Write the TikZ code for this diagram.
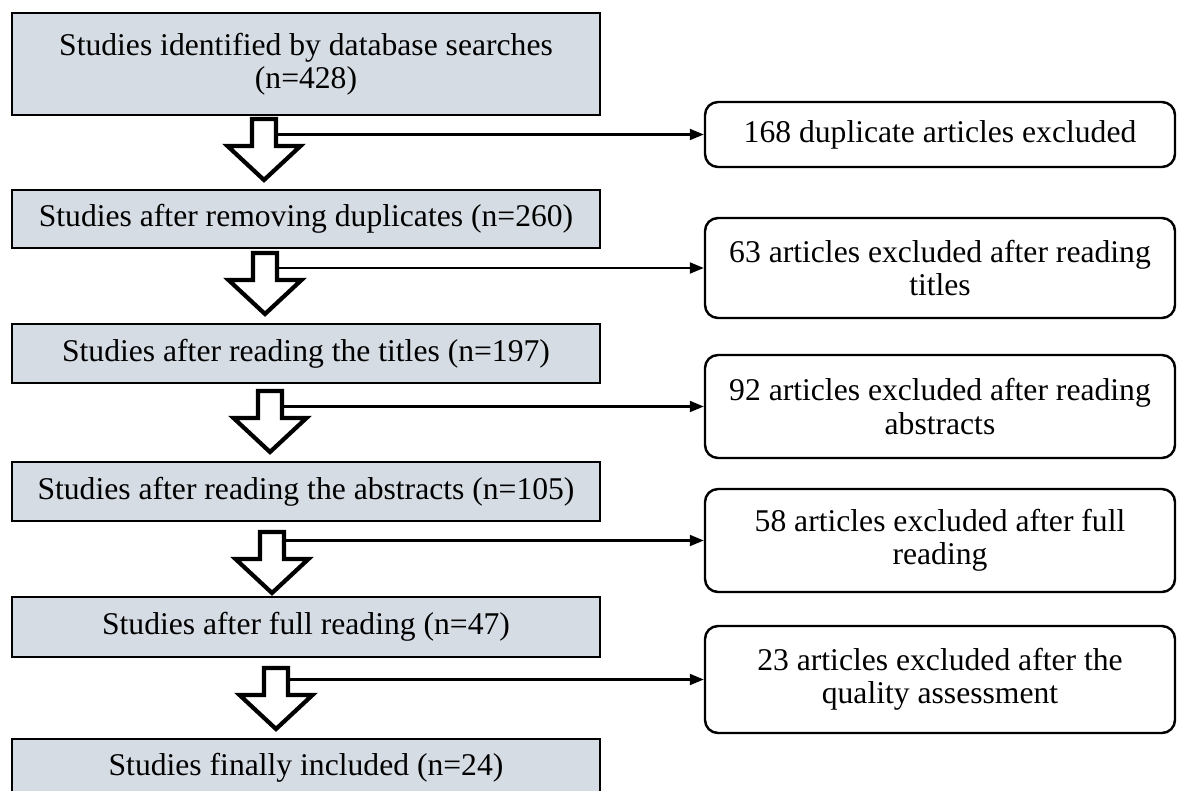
\documentclass[tikz,border=0pt]{standalone}
\usepackage{fontspec}
\setmainfont{Liberation Serif}
\usetikzlibrary{arrows.meta}

\definecolor{stagefill}{HTML}{D6DCE4}
\tikzset{
    txt/.style={font=\fontsize{9}{9.4}\selectfont, align=center},
    stage/.style={txt, draw, line width=0.7pt, fill=stagefill, minimum width=5.88cm, inner sep=2pt},
    excl/.style={txt, draw, line width=0.7pt, rounded corners=0.13cm, minimum width=4.70cm, inner sep=2pt},
    side/.style={-{Triangle[length=1.4mm, width=1.1mm]}, line width=0.6pt},
    down/.pic={
        \draw[line width=1.2pt, line join=miter] (-0.12,0) -- (0.12,0) -- (0.12,-0.27) -- (0.365,-0.27)
            -- (0,-0.61) -- (-0.365,-0.27) -- (-0.12,-0.27) -- cycle;
        \coordinate (-s) at (0.14,0);
    }
}

\begin{document}
\begin{tikzpicture}
    % পৃষ্ঠার সীমা
    \useasboundingbox (0,0) rectangle (11.77,-7.91);
    \clip (0,0) rectangle (11.77,-7.91);

    % বাম দিকের ধাপ
    \node[stage, minimum height=1.02cm] (s1) at (3.06,-0.64) {Studies identified by database searches\\(n=428)};
    \node[stage, minimum height=0.58cm] (s2) at (3.06,-2.19) {Studies after removing duplicates (n=260)};
    \node[stage, minimum height=0.59cm] (s3) at (3.06,-3.535) {Studies after reading the titles (n=197)};
    \node[stage, minimum height=0.59cm] (s4) at (3.06,-4.915) {Studies after reading the abstracts (n=105)};
    \node[stage, minimum height=0.60cm] (s5) at (3.06,-6.27) {Studies after full reading (n=47)};
    \node[stage, minimum height=0.58cm] (s6) at (3.06,-7.68) {Studies finally included (n=24)};

    % ডান দিকে বাদ পড়া প্রবন্ধ
    \node[excl, minimum height=0.65cm] (x1) at (9.40,-1.345) {168 duplicate articles excluded};
    \node[excl, minimum height=1.00cm] (x2) at (9.40,-2.68) {63 articles excluded after reading\\titles};
    \node[excl, minimum height=1.03cm] (x3) at (9.40,-4.065) {92 articles excluded after reading\\abstracts};
    \node[excl, minimum height=1.03cm] (x4) at (9.40,-5.405) {58 articles excluded after full\\reading};
    \node[excl, minimum height=1.07cm] (x5) at (9.40,-6.795) {23 articles excluded after the\\quality assessment};

    % ফাঁপা নিচমুখী তীর
    \pic (d1) at (2.64,-1.19) {down};
    \pic (d2) at (2.65,-2.53) {down};
    \pic (d3) at (2.70,-3.91) {down};
    \pic (d4) at (2.72,-5.32) {down};
    \pic (d5) at (2.76,-6.68) {down};

    % পাতলা তীর ডান বাক্সে
    \draw[side] (x1.west -| d1-s) -- (x1.west);
    \draw[side] (x2.west -| d2-s) -- (x2.west);
    \draw[side] (x3.west -| d3-s) -- (x3.west);
    \draw[side] (x4.west -| d4-s) -- (x4.west);
    \draw[side] (x5.west -| d5-s) -- (x5.west);
\end{tikzpicture}
\end{document}
